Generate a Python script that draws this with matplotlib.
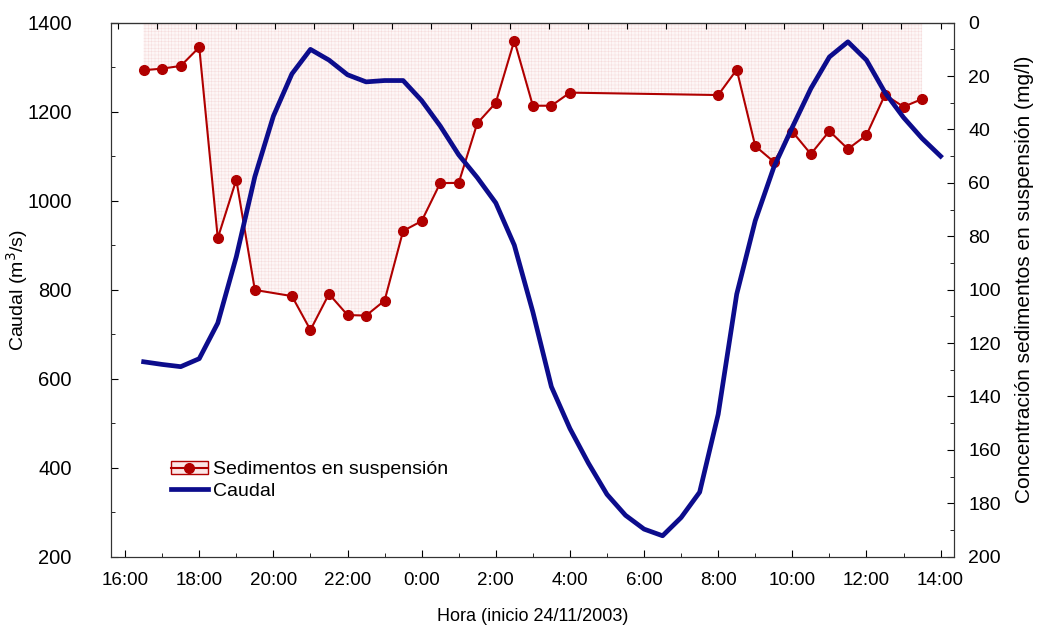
import numpy as np
import matplotlib
matplotlib.use('Agg')
from matplotlib import pyplot as plt
from matplotlib.patches import Patch
from matplotlib.lines import Line2D
from matplotlib.ticker import MultipleLocator

plt.rcParams['font.family'] = ['Liberation Sans', 'DejaVu Sans']
plt.rcParams['hatch.linewidth'] = 0.35

# hora de inicio de la serie: 16:00 del 24/11/2003
sed_times = ['16:30', '17:00', '17:30', '18:00', '18:30', '19:00', '19:30',
             '20:30', '21:00', '21:30', '22:00', '22:30', '23:00', '23:30',
             '0:00', '0:30', '1:00', '1:30', '2:00', '2:30', '3:00', '3:30',
             '4:00', '8:00', '8:30', '9:00', '9:30', '10:00', '10:30', '11:00',
             '11:30', '12:00', '12:30', '13:00', '13:30']
sed_vals = [17.8, 17.2, 16.2, 9.2, 80.7, 58.8, 100.1,
            102.4, 115.1, 101.6, 109.5, 109.7, 104.1, 78.0,
            74.3, 60.1, 60.0, 37.7, 30.0, 6.7, 31.1, 31.1,
            26.2, 27.1, 17.6, 46.2, 52.1, 40.8, 49.2, 40.6,
            47.3, 42.1, 27.0, 31.5, 28.6]

caudal_times = ['16:30', '17:00', '17:30', '18:00', '18:30', '19:00', '19:30', '20:00',
                '20:30', '21:00', '21:30', '22:00', '22:30', '23:00', '23:30', '0:00',
                '0:30', '1:00', '1:30', '2:00', '2:30', '3:00', '3:30', '4:00',
                '4:30', '5:00', '5:30', '6:00', '6:30', '7:00', '7:30', '8:00',
                '8:30', '9:00', '9:30', '10:00', '10:30', '11:00', '11:30', '12:00',
                '12:30', '13:00', '13:30', '14:00']
caudal_vals = [638, 632, 627, 645, 725, 874, 1054, 1190,
               1285, 1340, 1316, 1283, 1267, 1270, 1270, 1225,
               1168, 1103, 1052, 995, 900, 750, 582, 488,
               410, 340, 293, 262, 247, 288, 345, 520,
               790, 955, 1075, 1165, 1252, 1323, 1357, 1316,
               1243, 1187, 1140, 1100]

xtick_labels = ['16:00', '18:00', '20:00', '22:00', '0:00', '2:00',
                '4:00', '6:00', '8:00', '10:00', '12:00', '14:00']


def horas(t):
    # horas transcurridas desde las 16:00
    hh, mm = t.split(':')
    h = int(hh) + int(mm) / 60
    return h - 16 if h >= 16 else h + 8


sx = np.array([horas(t) for t in sed_times])
sy = np.array(sed_vals)
cx = np.array([horas(t) for t in caudal_times])
cy = np.array(caudal_vals)

fig = plt.figure(figsize=(10.4, 6.25), dpi=100)
ax = fig.add_axes([0.1064, 0.1093, 0.8112, 0.8544])
ax2 = ax.twinx()

rojo = '#b00000'
azul = '#0c0c8c'

ax2.fill_between(sx, sy, 0, facecolor='#fdf6f6', edgecolor='#f6dcdc',
                 hatch='+++++', linewidth=0)
ax2.plot(sx, sy, color=rojo, lw=1.5, marker='o', ms=7)
ax2.set_ylim(200, 0)
ax2.yaxis.set_major_locator(MultipleLocator(20))
ax2.yaxis.set_minor_locator(MultipleLocator(10))
ax2.set_ylabel('Concentración sedimentos en suspensión (mg/l)', fontsize=15)
ax2.yaxis.set_label_coords(1.072, 0.52)

ax.plot(cx, cy, color=azul, lw=3.4, solid_joinstyle='round')
ax.set_zorder(ax2.get_zorder() + 1)
ax.patch.set_visible(False)
ax.set_ylim(200, 1400)
ax.set_xlim(-0.39, 22.37)
ax.yaxis.set_major_locator(MultipleLocator(200))
ax.yaxis.set_minor_locator(MultipleLocator(100))
ax.set_xticks(np.arange(0, 23, 2))
ax.set_xticklabels(xtick_labels)
ax.xaxis.set_minor_locator(MultipleLocator(1))
ax.set_ylabel('Caudal (m$^3$/s)', fontsize=14)
ax.yaxis.set_label_coords(-0.096, 0.5)
ax.set_xlabel('Hora (inicio 24/11/2003)', fontsize=13, labelpad=14)

for a in (ax, ax2):
    a.tick_params(which='both', direction='in', labelsize=14)
    a.tick_params(which='major', length=5)
    a.tick_params(which='minor', length=3)
    for s in a.spines.values():
        s.set_color('#333333')
ax.tick_params(axis='y', labelsize=14.5, pad=28)
ax.tick_params(axis='x', labelsize=13.5, pad=11)
ax2.tick_params(axis='y', pad=10)

# marcas superiores
top = ax.secondary_xaxis('top')
top.set_xticks(22 - np.arange(22)[::-1] * (22.19 / 21))
top.set_xticklabels([])
top.tick_params(direction='in', length=4)

h_sed = (Patch(facecolor='#fbe6e6', edgecolor=rojo, lw=1),
         Line2D([], [], color=rojo, lw=1.5, marker='o', ms=7))
h_cau = Line2D([], [], color=azul, lw=3.4)
ax.legend([h_sed, h_cau], ['Sedimentos en suspensión', 'Caudal'],
          loc='upper left', bbox_to_anchor=(0.055, 0.205), frameon=False,
          fontsize=14, handlelength=1.9, handletextpad=0.3,
          borderpad=0.2, labelspacing=0.2)

fig.savefig('out.png', dpi=100)
